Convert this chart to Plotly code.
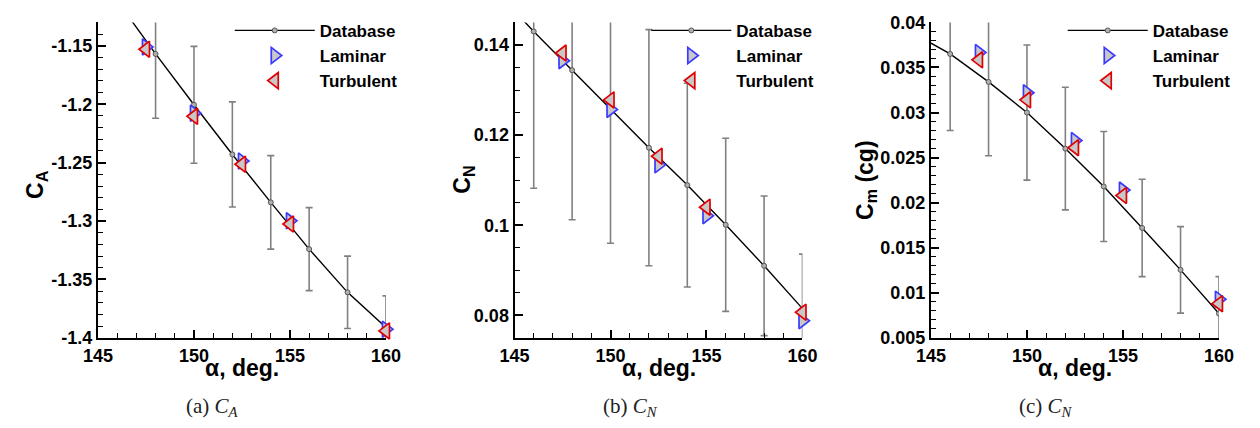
import plotly.graph_objects as go

W, H = 1260, 428

# ---------------- data ----------------
alpha_db = [144, 146, 148, 150, 152, 154, 156, 158, 160]
ca_db = [-1.066, -1.111, -1.157, -1.2005, -1.243, -1.284, -1.324, -1.361, -1.391]
ca_err = [0, 0, 0.055, 0.05, 0.045, 0.04, 0.0355, 0.031, 0.027]
cn_db = [0.152, 0.143, 0.1344, 0.1258, 0.1172, 0.1089, 0.1001, 0.091, 0.0815]
cn_err = [0.035, 0.0348, 0.0332, 0.0298, 0.0262, 0.0226, 0.0192, 0.0155, 0.0121]
cm_db = [0.0389, 0.0365, 0.0334, 0.0300, 0.0260, 0.0218, 0.0172, 0.01255, 0.0077]
cm_err = [0.0088, 0.0085, 0.0082, 0.0075, 0.0068, 0.0061, 0.0054, 0.0048, 0.0041]

alpha_cfd = [147.5, 150, 152.5, 155, 160]
ca_lam = [-1.151, -1.2077, -1.2486, -1.2998, -1.3925]
ca_turb = [-1.153, -1.2104, -1.2514, -1.3025, -1.394]
cn_lam = [0.1365, 0.1257, 0.1134, 0.1021, 0.0788]
cn_turb = [0.1382, 0.1278, 0.1153, 0.104, 0.0807]
cm_lam = [0.03666, 0.0322, 0.0269, 0.0214, 0.0093]
cm_turb = [0.03585, 0.03141, 0.0261, 0.0208, 0.0088]

x_ticks = [145, 150, 155, 160]
ca_ticks = [-1.4, -1.35, -1.3, -1.25, -1.2, -1.15]
ca_ticktext = ["-1.4", "-1.35", "-1.3", "-1.25", "-1.2", "-1.15"]
cn_ticks = [0.08, 0.1, 0.12, 0.14]
cn_ticktext = ["0.08", "0.1", "0.12", "0.14"]
cm_ticks = [0.005, 0.01, 0.015, 0.02, 0.025, 0.03, 0.035, 0.04]
cm_ticktext = ["0.005", "0.01", "0.015", "0.02", "0.025", "0.03", "0.035", "0.04"]

y_titles = ["C<sub>A</sub>", "C<sub>N</sub>", "C<sub>m</sub> (cg)"]
captions = ["(a) <i>C<sub>A</sub></i>", "(b) <i>C<sub>N</sub></i>", "(c) <i>C<sub>N</sub></i>"]

# ---------------- layout geometry (pixels) ----------------
panels_px = [(85, 380), (511.7, 806.7), (938.3, 1233.3)]
top_px, bot_px = 13, 344
ydom = [(H - bot_px) / H, (H - top_px) / H]

SANS = "Liberation Sans"
SERIF = "Liberation Serif"
GRAY_FILL = "#c8c8c8"
BLUE = "#3a3aff"
RED = "#e00000"
ERR = "#808080"

fig = go.Figure()

panel_data = [
    (ca_db, ca_err, ca_lam, ca_turb),
    (cn_db, cn_err, cn_lam, cn_turb),
    (cm_db, cm_err, cm_lam, cm_turb),
]

for i, (db, err, lam, turb) in enumerate(panel_data):
    sfx = "" if i == 0 else str(i + 1)
    xa, ya = "x" + sfx, "y" + sfx
    leg = "legend" + sfx
    fig.add_trace(go.Scatter(
        x=alpha_db, y=db, xaxis=xa, yaxis=ya, mode="lines+markers",
        name="Database", legend=leg,
        line=dict(color="black", width=1.4),
        marker=dict(symbol="circle", size=5, color="#b0b0b0",
                    line=dict(color="#555555", width=1)),
        error_y=dict(type="data", array=err, visible=True, color=ERR,
                     thickness=1.6, width=3.5),
    ))
    fig.add_trace(go.Scatter(
        x=alpha_cfd, y=lam, xaxis=xa, yaxis=ya, mode="markers",
        name="Laminar", legend=leg, cliponaxis=False,
        marker=dict(symbol="triangle-right", size=14, color=GRAY_FILL,
                    line=dict(color=BLUE, width=1.7)),
    ))
    fig.add_trace(go.Scatter(
        x=alpha_cfd, y=turb, xaxis=xa, yaxis=ya, mode="markers",
        name="Turbulent", legend=leg, cliponaxis=False,
        marker=dict(symbol="triangle-left", size=14, color=GRAY_FILL,
                    line=dict(color=RED, width=1.7)),
    ))

y_specs = [
    dict(range=[-1.4, -1.13], tickvals=ca_ticks, ticktext=ca_ticktext, minor_dtick=0.01),
    dict(range=[0.075, 0.145], tickvals=cn_ticks, ticktext=cn_ticktext, minor_dtick=0.005),
    dict(range=[0.005, 0.04], tickvals=cm_ticks, ticktext=cm_ticktext, minor_dtick=0.001),
]

tickfont = dict(family=SANS, size=18, color="black", weight="bold")
layout = dict(
    width=W, height=H, margin=dict(l=0, r=0, t=0, b=0),
    paper_bgcolor="white", plot_bgcolor="white", showlegend=True,
)

annotations = []
for i, ((x0, x1), ys) in enumerate(zip(panels_px, y_specs)):
    sfx = "" if i == 0 else str(i + 1)
    layout["xaxis" + sfx] = dict(
        domain=[x0 / W, x1 / W], anchor="y" + sfx, range=[145, 160],
        tickvals=x_ticks, showgrid=False, zeroline=False,
        showline=True, linecolor="black", linewidth=2,
        ticks="inside", ticklen=8, tickwidth=1.5, tickcolor="black",
        minor=dict(dtick=1, ticks="inside", ticklen=5, tickwidth=1.2, tickcolor="black"),
        tickfont=tickfont,
    )
    layout["yaxis" + sfx] = dict(
        domain=ydom, anchor="x" + sfx, range=ys["range"],
        tickvals=ys["tickvals"], ticktext=ys["ticktext"],
        showgrid=False, zeroline=False,
        showline=True, linecolor="black", linewidth=2,
        ticks="inside", ticklen=8, tickwidth=1.5, tickcolor="black",
        minor=dict(dtick=ys["minor_dtick"], ticks="inside", ticklen=5, tickwidth=1.2, tickcolor="black"),
        tickfont=tickfont,
    )
    # legend
    layout["legend" + sfx] = dict(
        x=(x1 - 160) / W, y=(H - 3) / H, xanchor="left", yanchor="top",
        bgcolor="rgba(0,0,0,0)", borderwidth=0, itemwidth=80,
        font=dict(family=SANS, size=17, color="black", weight="bold"),
        tracegroupgap=0,
    )
    # x title
    annotations.append(dict(
        text="α, deg.", xref="paper", yref="paper",
        x=(x0 + x1) / 2 / W, y=(H - 376) / H, xanchor="center", yanchor="middle",
        showarrow=False, font=dict(family=SANS, size=23, color="black", weight="bold"),
    ))

ytitle_pos = [(22, 183), (460, 178), (872, 178)]
for t, (px, py) in zip(y_titles, ytitle_pos):
    annotations.append(dict(
        text=t, xref="paper", yref="paper", x=px / W, y=(H - py) / H,
        xanchor="center", yanchor="middle", textangle=-90, showarrow=False,
        font=dict(family=SANS, size=23, color="black", weight="bold"),
    ))

caption_x = [202, 630, 1056]
for t, cx in zip(captions, caption_x):
    annotations.append(dict(
        text=t, xref="paper", yref="paper", x=cx / W, y=(H - 416) / H,
        xanchor="center", yanchor="middle", showarrow=False,
        font=dict(family=SERIF, size=21, color="#222222"),
    ))

layout["annotations"] = annotations
fig.update_layout(**layout)
fig.write_html("out.html")
